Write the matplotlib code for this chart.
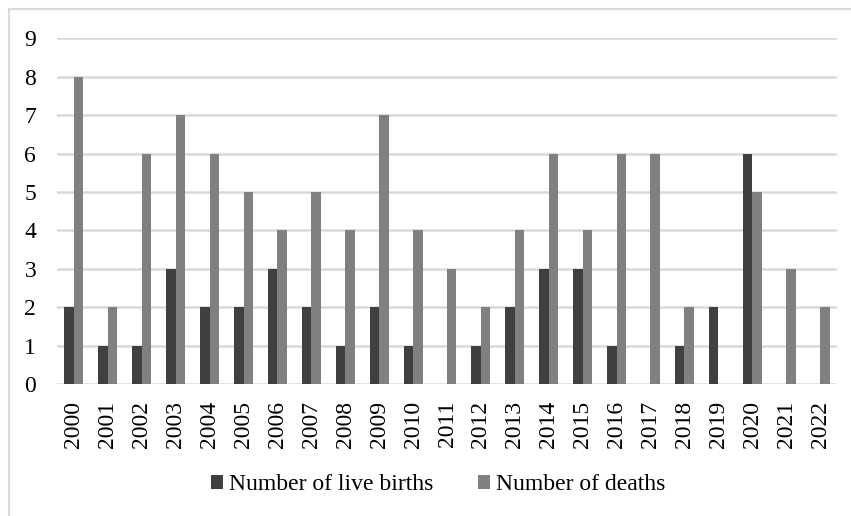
import numpy as np
from matplotlib import pyplot as plt
from matplotlib.patches import Rectangle

years = [str(y) for y in range(2000, 2023)]
live_births = [2, 1, 1, 3, 2, 2, 3, 2, 1, 2, 1, 0, 1, 2, 3, 3, 1, 0, 1, 2, 6, 0, 0]
deaths = [8, 2, 6, 7, 6, 5, 4, 5, 4, 7, 4, 3, 2, 4, 6, 4, 6, 6, 2, 0, 5, 3, 2]

plt.rcParams['font.family'] = ['Liberation Serif', 'DejaVu Serif']

W, H = 851, 516
fig = plt.figure(figsize=(W / 100, H / 100), dpi=100)
ax = fig.add_axes([57 / W, 1 - 384 / H, (837 - 57) / W, (384 - 38.3) / H])

x = np.arange(len(years))
bw = 0.28
ax.bar(x - bw / 2, live_births, bw, color='#404040', label='Number of live births', zorder=3)
ax.bar(x + bw / 2, deaths, bw, color='#808080', label='Number of deaths', zorder=3)

ax.set_xlim(-0.5, len(years) - 0.5)
ax.set_ylim(0, 9)
ax.set_yticks(range(10))
ax.set_xticks(x)
ax.set_xticklabels(years, rotation=90)
ax.tick_params(length=0, labelsize=17)
ax.tick_params(axis='y', pad=15)
ax.tick_params(axis='x', pad=12)
ax.grid(axis='y', color='#d9d9d9', linewidth=1.8, zorder=0)
for s in ax.spines.values():
    s.set_visible(False)

fig.legend(loc='center', bbox_to_anchor=(438 / W, 1 - 485 / H), ncol=2,
           frameon=False, fontsize=17, handlelength=0.5, handleheight=0.5,
           handletextpad=0.25, columnspacing=1.9)

fig.patches.append(Rectangle((9 / W, -0.1), 1.2, 1 - 9 / H + 0.1, transform=fig.transFigure,
                             fill=False, edgecolor='#d9d9d9', linewidth=1.5))

fig.savefig('out.png', dpi=100)
